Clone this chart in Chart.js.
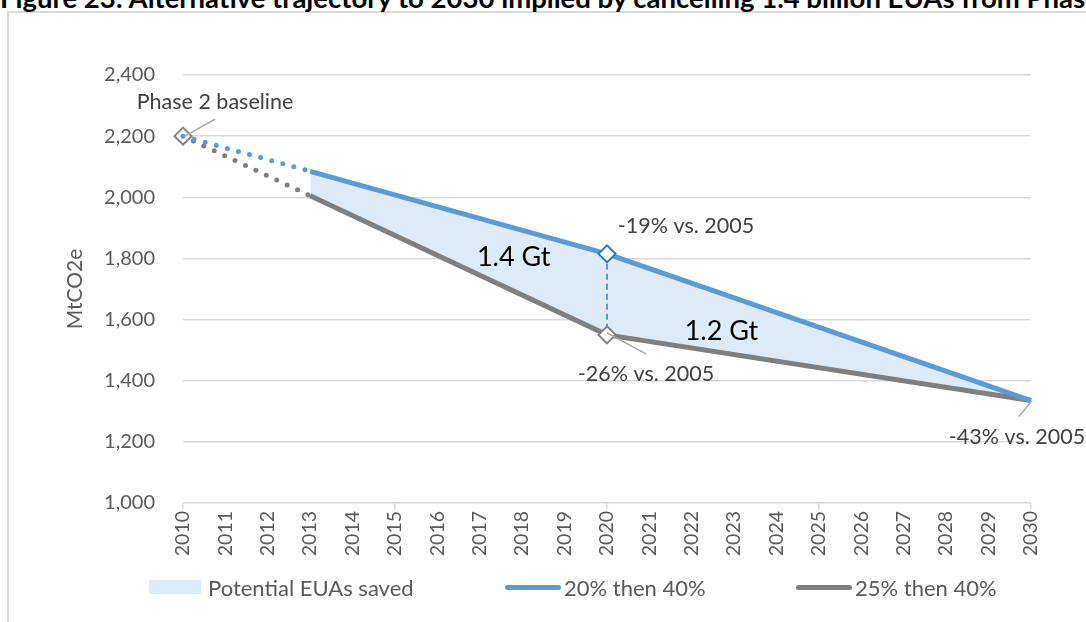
<!DOCTYPE html>
<html><head><meta charset="utf-8">
<script src="https://cdn.jsdelivr.net/npm/chart.js@4.4.1/dist/chart.umd.min.js"></script>
<style>
html,body{margin:0;padding:0;background:#fff;overflow:hidden;}
body{width:1086px;height:622px;position:relative;font-family:Lato,sans-serif;}
#frame{position:absolute;left:7px;top:11px;width:1200px;height:800px;border:2px solid #D9D9D9;box-sizing:border-box;}
#title{position:absolute;left:0;white-space:nowrap;font-weight:bold;color:#000;line-height:1;font-family:Lato,sans-serif;}
#wrap{position:absolute;left:0;top:0;width:1086px;height:622px;}
.lg{position:absolute;top:576px;height:22px;display:flex;align-items:center;font-size:22px;color:#595959;white-space:nowrap;}
.box{width:52px;height:14px;background:#DDEBF7;margin-right:7px;}
.ln{width:56px;height:5px;border-radius:3px;margin-right:3px;}
</style></head>
<body>
<div id="frame"></div>
<div id="title"></div>
<div id="wrap"><canvas id="c" width="1086" height="622"></canvas></div>
<div class="lg" style="left:149px"><span class="box"></span><span id="lg0"></span></div>
<div class="lg" style="left:505px"><span class="ln" style="background:#5B9BD5"></span><span id="lg1"></span></div>
<div class="lg" style="left:796px"><span class="ln" style="background:#7F7F7F"></span><span id="lg2"></span></div>
<script>
// ---- data ----
const titleText = 'Figure 23: Alternative trajectory to 2030 implied by cancelling 1.4 billion EUAs from Phase 3';
const years = [2010, 2013, 2020, 2030];
const path20then40 = [2200, 2085, 1815, 1335];
const path25then40 = [2200, 2005, 1550, 1335];
const tickYears = [2010,2011,2012,2013,2014,2015,2016,2017,2018,2019,2020,2021,2022,2023,2024,2025,2026,2027,2028,2029,2030];
const yTicks = [1000, 1200, 1400, 1600, 1800, 2000, 2200, 2400];
const seriesNames = ['Potential EUAs saved', '20% then 40%', '25% then 40%'];
const callouts = ['Phase 2 baseline', '-19% vs. 2005', '-26% vs. 2005', '-43% vs. 2005'];
const savedLabels = ['1.4 Gt', '1.2 Gt'];
const yTitle = 'MtCO2e';

// ---- title ----
const tEl = document.getElementById('title');
tEl.textContent = titleText;
const mc = document.createElement('canvas').getContext('2d');
mc.font = 'bold 100px Lato';
const tw = mc.measureText(titleText.slice(0, titleText.indexOf('Phase') + 4)).width;
const tSize = 100 * 1088 / tw;
tEl.style.fontSize = tSize + 'px';
tEl.style.top = (8 - 0.887 * tSize) + 'px';

seriesNames.forEach((n, i) => document.getElementById('lg' + i).textContent = n);

const BLUE = '#5B9BD5', GRAY = '#7F7F7F';
const pts = ys => years.map((x, i) => ({x, y: ys[i]}));
const isLead = c => c.p1.parsed.x <= years[1];
const seg = {
  borderDash: c => isLead(c) ? [0, 11.5] : [],
  borderCapStyle: c => isLead(c) ? 'round' : 'butt'
};

const annot = {
  id: 'annot',
  afterDatasetsDraw(chart) {
    const {ctx, scales: {x, y}} = chart;
    const P = (xv, yv) => [x.getPixelForValue(xv), y.getPixelForValue(yv)];
    ctx.save();
    ctx.textAlign = 'center';
    ctx.textBaseline = 'middle';
    const line = (x1, y1, x2, y2) => {
      ctx.beginPath(); ctx.moveTo(x1, y1); ctx.lineTo(x2, y2);
      ctx.strokeStyle = '#A6A6A6'; ctx.lineWidth = 1.5; ctx.stroke();
    };
    const text = (s, px, py, size, color) => {
      ctx.font = size + 'px Lato'; ctx.fillStyle = color; ctx.fillText(s, px, py);
    };
    const b = P(years[0], path25then40[0]);
    line(b[0] + 2, b[1], b[0] + 32, b[1] - 17);
    text(callouts[0], b[0] + 32, b[1] - 34, 21.5, '#404040');
    const u = P(years[2], path20then40[2]);
    text(callouts[1], u[0] + 79, u[1] - 28, 21.5, '#404040');
    const l = P(years[2], path25then40[2]);
    line(l[0], l[1] - 2, l[0] + 39, l[1] + 19);
    text(callouts[2], l[0] + 39, l[1] + 39, 21.5, '#404040');
    const e = P(years[3], path25then40[3]);
    line(e[0] + 1, e[1], e[0] - 12, e[1] + 16);
    text(callouts[3], e[0] - 14, e[1] + 36, 21.5, '#404040');
    const g1 = P(2017.8, 1805), g2 = P(2022.7, 1563);
    text(savedLabels[0], g1[0], g1[1], 27, '#000');
    text(savedLabels[1], g2[0], g2[1], 27, '#000');
    ctx.restore();
  }
};

new Chart(document.getElementById('c'), {
  type: 'line',
  data: {
    datasets: [
      { label: seriesNames[0], data: pts(path20then40).slice(1), fill: 2,
        backgroundColor: '#DDEBF7', borderColor: 'transparent', borderWidth: 0,
        pointRadius: 0, order: 5, clip: false },
      { label: seriesNames[1], data: pts(path20then40), borderColor: BLUE, borderWidth: 5,
        segment: seg, tension: 0, fill: false, order: 1, clip: false,
        pointStyle: 'rectRot', pointRadius: c => c.raw && c.raw.x === years[2] ? 8.5 : 0,
        pointBackgroundColor: '#fff', pointBorderColor: '#2E75B6', pointBorderWidth: 2 },
      { label: seriesNames[2], data: pts(path25then40), borderColor: GRAY, borderWidth: 5,
        segment: seg, tension: 0, fill: false, order: 2, clip: false,
        pointStyle: 'rectRot', pointRadius: c => c.raw && (c.raw.x === years[2] || c.raw.x === years[0]) ? 8.5 : 0,
        pointBackgroundColor: '#fff', pointBorderColor: GRAY, pointBorderWidth: 2 },
      { label: 'drop', data: [{x: years[2], y: path20then40[2]}, {x: years[2], y: path25then40[2]}],
        borderColor: BLUE, borderWidth: 2, borderDash: [6, 4], pointRadius: 0, fill: false, order: 3, clip: false }
    ]
  },
  options: {
    responsive: false, animation: false,
    layout: { padding: { left: 55, right: 55, top: 75, bottom: 59 } },
    plugins: { legend: { display: false }, tooltip: { enabled: false } },
    scales: {
      x: {
        type: 'linear', min: years[0], max: years[3],
        afterBuildTicks: s => { s.ticks = tickYears.map(v => ({value: v})); },
        afterFit: s => { s.height = 60; },
        ticks: { autoSkip: false, minRotation: 90, maxRotation: 90, padding: 2,
          font: { family: 'Lato', size: 19.5 }, color: '#595959', callback: v => String(v) },
        grid: { drawOnChartArea: false, drawTicks: true, tickLength: 6, lineWidth: 1.5,
          color: c => (c.tick && c.tick.value % 5 === 0) ? '#D9D9D9' : 'rgba(0,0,0,0)' },
        border: { display: false }
      },
      y: {
        min: yTicks[0], max: yTicks[yTicks.length - 1],
        afterBuildTicks: s => { s.ticks = yTicks.map(v => ({value: v})); },
        afterFit: s => { s.width = 128; },
        ticks: { padding: 28, font: { family: 'Lato', size: 20 }, color: '#595959' },
        grid: { color: '#D9D9D9', lineWidth: 1.5, drawTicks: false },
        border: { display: false },
        title: { display: true, text: yTitle, font: { family: 'Lato', size: 21 }, color: '#595959', padding: { top: 8, bottom: 0 } }
      }
    }
  },
  plugins: [annot]
});
</script>
</body></html>
